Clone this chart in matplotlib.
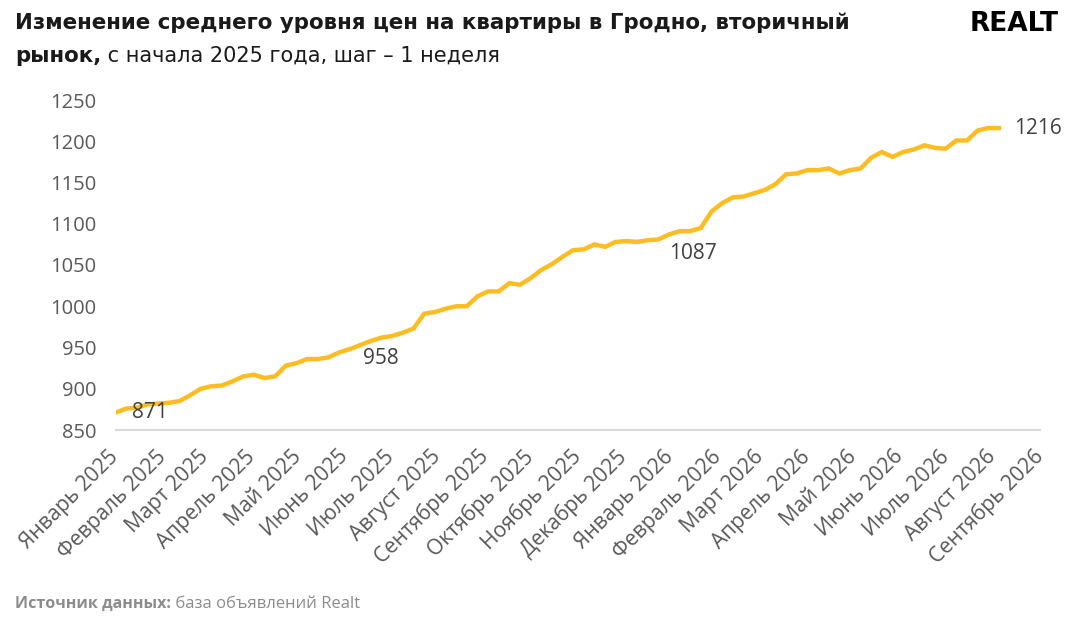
#!/usr/bin/env python

import numpy as np
import pandas as pd

import matplotlib
matplotlib.use("Agg")
import matplotlib.pyplot as plt


# weekly average price, USD per m2
start_date = "2025-01-01"
prices = [
    871, 876, 877, 881, 882, 883, 885, 892, 900, 903,
    904, 909, 915, 917, 913, 915, 928, 931, 936, 936,
    938, 944, 948, 953, 958, 962, 964, 968, 973, 991,
    993, 997, 1000, 1000, 1012, 1018, 1018, 1028, 1026, 1034,
    1044, 1051, 1060, 1068, 1069, 1075, 1072, 1078, 1079, 1078,
    1080, 1081, 1087, 1091, 1091, 1095, 1115, 1125, 1132, 1133,
    1137, 1141, 1148, 1160, 1161, 1165, 1165, 1167, 1161, 1165,
    1167, 1180, 1187, 1181, 1187, 1190, 1195, 1192, 1191, 1201,
    1201, 1213, 1216, 1216,
]

# which points carry a value label
labelled = [0, 24, 52, 83]

month_names = [
    "Январь", "Февраль", "Март", "Апрель", "Май", "Июнь",
    "Июль", "Август", "Сентябрь", "Октябрь", "Ноябрь", "Декабрь",
]

y_ticks = [850, 900, 950, 1000, 1050, 1100, 1150, 1200, 1250]

title_line1 = "Изменение среднего уровня цен на квартиры в Гродно, вторичный"
title_bold2 = "рынок,"
title_rest2 = " с начала 2025 года, шаг – 1 неделя"
source_bold = "Источник данных:"
source_rest = " база объявлений Realt"

LINE = "#FDBC21"
TEXT = "#404040"
GREY = "#595959"

plt.rcParams["font.family"] = ["Open Sans", "DejaVu Sans"]
TITLE_FONT = ["DejaVu Sans"]

dates = pd.date_range(start_date, periods=len(prices), freq="7D")
df = pd.DataFrame({"date": dates, "price": prices})

fig = plt.figure(figsize=(10.8, 6.25), dpi=100)
ax = fig.add_axes([0.107, 0.312, 0.856, 0.528])

ax.plot(df["date"], df["price"], "-", c=LINE, lw=3.2, solid_joinstyle="miter")

offsets = {
    0: (12, 0, "left", "center"),
    24: (-6, -5, "left", "top"),
    52: (0, -6, "left", "top"),
    83: (11, 0, "left", "center"),
}
for i in labelled:
    dx, dy, ha, va = offsets[i]
    ax.annotate(
        "{}".format(prices[i]),
        (df["date"][i], prices[i]),
        xytext=(dx, dy), textcoords="offset points",
        ha=ha, va=va, fontsize=15, color=TEXT,
    )

ax.set_ylim(850, 1250)
ax.set_yticks(y_ticks)
ax.set_yticklabels([str(v) for v in y_ticks])

month_starts = pd.date_range("2025-01-01", "2026-09-01", freq="MS")
ax.set_xlim(month_starts[0], month_starts[-1])
ax.set_xticks(month_starts)
ax.set_xticklabels(
    ["{} {}".format(month_names[d.month - 1], d.year) for d in month_starts],
    rotation=45, ha="right", va="center", rotation_mode="anchor",
)

for side in ["top", "right", "left"]:
    ax.spines[side].set_visible(False)
ax.spines["bottom"].set_color("#d9d9d9")
ax.spines["bottom"].set_linewidth(1.5)

ax.tick_params(axis="y", length=0, pad=14, labelsize=14.5, labelcolor=GREY)
ax.tick_params(axis="x", length=0, pad=17, labelsize=15.2, labelcolor=GREY)

# title, two lines, second line half bold
fig.text(0.014, 0.963, title_line1, fontsize=15.4, fontweight="bold",
         family=TITLE_FONT, color="#1a1a1a", va="center", ha="left")
t_bold = fig.text(0.014, 0.911, title_bold2, fontsize=15.4, fontweight="bold",
                  family=TITLE_FONT, color="#1a1a1a", va="center", ha="left")
fig.text(0.98, 0.962, "REALT", fontsize=19, fontweight="heavy",
         family=TITLE_FONT, color="black", ha="right", va="center")
s_bold = fig.text(0.014, 0.034, source_bold, fontsize=11.5, fontweight="bold",
                  color="#8c8c8c", va="center", ha="left")

fig.canvas.draw()
renderer = fig.canvas.get_renderer()
bb = t_bold.get_window_extent(renderer).transformed(fig.transFigure.inverted())
fig.text(bb.x1, 0.911, title_rest2, fontsize=15, family=TITLE_FONT,
         color="#1a1a1a", va="center", ha="left")
bb = s_bold.get_window_extent(renderer).transformed(fig.transFigure.inverted())
fig.text(bb.x1, 0.034, source_rest, fontsize=12, color="#8c8c8c",
         va="center", ha="left")

fig.savefig("out.png", dpi=100)
